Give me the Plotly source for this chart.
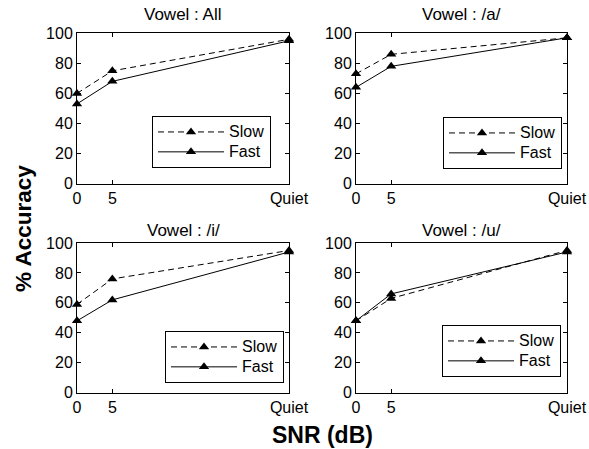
import plotly.graph_objects as go

# ---- data ----
snr_labels = ["0", "5", "Quiet"]
snr_x = [0, 5, 30]
y_ticks = [0, 20, 40, 60, 80, 100]
panel_titles = ["Vowel : All", "Vowel : /a/", "Vowel : /i/", "Vowel : /u/"]
slow_all = [60, 75, 96]
fast_all = [53, 68, 95]
slow_a = [73, 86, 97]
fast_a = [64, 78, 97]
slow_i = [59, 76, 95]
fast_i = [48, 62, 94]
slow_u = [48, 63, 95]
fast_u = [48, 66, 94]
series_names = ["Slow", "Fast"]

W, H = 589, 449
FONT = "Liberation Sans, Arial, sans-serif"


def fx(p):
    return p / W


def fy(p):
    return 1 - p / H


# panel boxes in page pixels: (left, right, top, bottom)
boxes = [(77, 289, 33.3, 183.5), (356, 567, 33.3, 183.5),
         (77, 289, 243, 392.7), (356, 567, 243, 392.7)]
legend_pos = [(152, 116), (443, 117), (165, 331), (442, 325)]
title_cy = [14, 14, 231, 231]

data_sets = [(slow_all, fast_all), (slow_a, fast_a), (slow_i, fast_i), (slow_u, fast_u)]

fig = go.Figure()
layout = dict(
    template="none",
    width=W, height=H, margin=dict(l=0, r=0, t=0, b=0, autoexpand=False),
    paper_bgcolor="white", plot_bgcolor="white",
    font=dict(family=FONT, color="black", size=16),
    showlegend=True,
)
annotations = []
for i, ((slow, fast), box) in enumerate(zip(data_sets, boxes)):
    n = "" if i == 0 else str(i + 1)
    xa, ya = "x" + n, "y" + n
    lg = "legend" + n
    for name, vals, dash in [(series_names[0], slow, "6px,4px"), (series_names[1], fast, "solid")]:
        fig.add_trace(go.Scatter(
            x=snr_x, y=vals, name='<span style="font-size:16px">%s</span>' % name,
            mode="lines+markers",
            line=dict(color="black", width=1, dash=dash),
            marker=dict(symbol="triangle-up", size=9, color="black"),
            xaxis=xa, yaxis=ya, legend=lg, cliponaxis=False,
        ))
    l, r, t, b = box
    common = dict(showline=True, linecolor="black", linewidth=1, mirror="allticks",
                  ticks="inside", ticklen=4, tickcolor="black", showgrid=False,
                  zeroline=False, automargin=False,
                  tickfont=dict(size=16, color="black", family=FONT))
    layout["xaxis" + n] = dict(domain=[fx(l), fx(r)], range=[0, 30], tickvals=snr_x,
                               ticktext=snr_labels, anchor=ya, **common)
    layout["yaxis" + n] = dict(domain=[fy(b), fy(t)], range=[0, 100], tickvals=y_ticks,
                               anchor=xa, **common)
    lx, ly = legend_pos[i]
    layout[lg] = dict(x=fx(lx), y=fy(ly), xanchor="left", yanchor="top",
                      bordercolor="black", borderwidth=1, bgcolor="white",
                      font=dict(size=13, family=FONT, color="black"),
                      itemwidth=66, tracegroupgap=0)
    annotations.append(dict(text=panel_titles[i], x=fx((l + r) / 2), y=fy(title_cy[i]),
                            xref="paper", yref="paper", showarrow=False,
                            xanchor="center", yanchor="middle",
                            font=dict(size=17, family=FONT, color="black")))

annotations.append(dict(text="<b>% Accuracy</b>", x=fx(23), y=fy(229), xref="paper", yref="paper",
                        showarrow=False, textangle=-90, xanchor="center", yanchor="middle",
                        font=dict(size=22.5, family=FONT, color="black")))
annotations.append(dict(text="<b>SNR (dB)</b>", x=fx(322), y=fy(435), xref="paper", yref="paper",
                        showarrow=False, xanchor="center", yanchor="middle",
                        font=dict(size=23, family=FONT, color="black")))
layout["annotations"] = annotations
fig.update_layout(**layout)
fig.write_html("out.html",
               config={"displayModeBar": False},
               post_script="document.body.style.margin='0';document.body.style.overflow='hidden';")
